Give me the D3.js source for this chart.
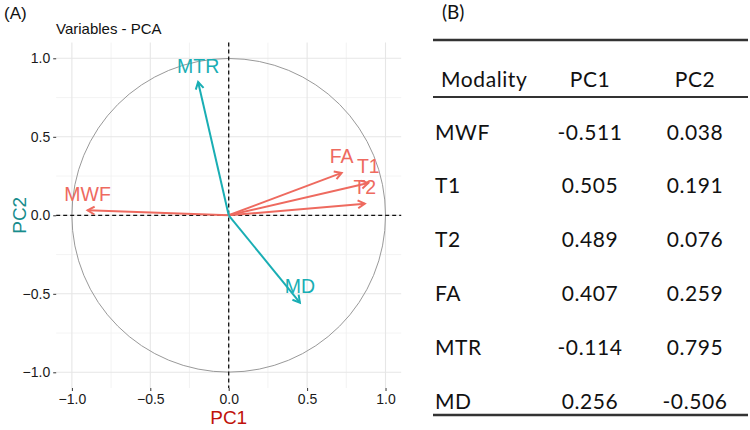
<!DOCTYPE html>
<html><head><meta charset="utf-8">
<script src="https://cdn.jsdelivr.net/npm/d3@7"></script>
<style>body{margin:0;background:#fff}svg{display:block}</style>
</head><body>
<svg id="c" width="750" height="430"></svg>
<script>
// Panel A: variable coordinates read from the correlation circle
const variables = ["MWF","T1","T2","FA","MTR","MD"];
const coordPC1 = [-0.90, 0.89, 0.868, 0.72, -0.195, 0.454];
const coordPC2 = [0.032, 0.206, 0.074, 0.27, 0.849, -0.556];
const groups   = ["a","a","a","a","b","b"];
const axisTicks = [-1.0,-0.5,0.0,0.5,1.0];
const minorTicks = [-0.75,-0.25,0.25,0.75];
// Panel B: table
const tableHeader = ["Modality","PC1","PC2"];
const tableModality = ["MWF","T1","T2","FA","MTR","MD"];
const tablePC1 = ["-0.511","0.505","0.489","0.407","-0.114","0.256"];
const tablePC2 = ["0.038","0.191","0.076","0.259","0.795","-0.506"];

const svg = d3.select("#c");
const red = "#EE6A5F", teal = "#19AEB4";
const color = d3.scaleOrdinal().domain(["a","b"]).range([red, teal]);

const x = d3.scaleLinear().domain([-1.1,1.1]).range([56.2,401.2]);
const y = d3.scaleLinear().domain([-1.1,1.1]).range([388,42.6]);
const F = "'Liberation Sans', Arial, sans-serif";

// grid
const g = svg.append("g");
minorTicks.forEach(t=>{
  g.append("line").attr("x1",x(t)).attr("x2",x(t)).attr("y1",y.range()[0]).attr("y2",y.range()[1]).attr("stroke","#f0f0f0").attr("stroke-width",0.8);
  g.append("line").attr("y1",y(t)).attr("y2",y(t)).attr("x1",x.range()[0]).attr("x2",x.range()[1]).attr("stroke","#f0f0f0").attr("stroke-width",0.8);
});
axisTicks.forEach(t=>{
  g.append("line").attr("x1",x(t)).attr("x2",x(t)).attr("y1",y.range()[0]).attr("y2",y.range()[1]).attr("stroke","#e6e6e6").attr("stroke-width",1.1);
  g.append("line").attr("y1",y(t)).attr("y2",y(t)).attr("x1",x.range()[0]).attr("x2",x.range()[1]).attr("stroke","#e6e6e6").attr("stroke-width",1.1);
});

// axes
const xAxis = d3.axisBottom(x).tickValues(axisTicks).tickFormat(d3.format(".1f")).tickSize(3).tickPadding(3);
const yAxis = d3.axisLeft(y).tickValues(axisTicks).tickFormat(d3.format(".1f")).tickSize(3).tickPadding(3);
const gx = svg.append("g").attr("transform",`translate(0,${y.range()[0]})`).call(xAxis);
const gy = svg.append("g").attr("transform",`translate(${x.range()[0]},0)`).call(yAxis);
[gx,gy].forEach(a=>{
  a.select(".domain").remove();
  a.selectAll(".tick line").attr("stroke","#333");
  a.selectAll(".tick text").attr("fill","#1a1a1a").style("font-family",F).style("font-size","14px");
});

// circle
svg.append("circle").attr("cx",x(0)).attr("cy",y(0)).attr("r",x(1)-x(0))
  .attr("fill","none").attr("stroke","#999").attr("stroke-width",1);

// dashed axes lines
svg.append("line").attr("x1",x(0)).attr("x2",x(0)).attr("y1",y.range()[1]).attr("y2",y.range()[0])
  .attr("stroke","#111").attr("stroke-width",1.3).attr("stroke-dasharray","4,3");
svg.append("line").attr("x1",x.range()[0]).attr("x2",x.range()[1]).attr("y1",y(0)).attr("y2",y(0))
  .attr("stroke","#111").attr("stroke-width",1.3).attr("stroke-dasharray","4,3");

// arrows
const data = variables.map((v,i)=>({v, px:coordPC1[i], py:coordPC2[i], grp:groups[i]}));
const ag = svg.append("g");
data.forEach(d=>{
  const x0=x(0), y0=y(0), x1=x(d.px), y1=y(d.py);
  const ang = Math.atan2(y1-y0, x1-x0);
  const L=8, a=Math.PI/6;
  const c = color(d.grp);
  ag.append("line").attr("x1",x0).attr("y1",y0).attr("x2",x1).attr("y2",y1)
    .attr("stroke",c).attr("stroke-width",2);
  ag.append("path").attr("d",
    `M${x1-L*Math.cos(ang-a)},${y1-L*Math.sin(ang-a)}L${x1},${y1}L${x1-L*Math.cos(ang+a)},${y1-L*Math.sin(ang+a)}`)
    .attr("fill","none").attr("stroke",c).attr("stroke-width",2).attr("stroke-linejoin","miter");
  ag.append("text").attr("x",x1).attr("y",y1-16.5).attr("text-anchor","middle").attr("dominant-baseline","central")
    .attr("fill",c).style("font-family",F).style("font-size","19.5px").text(d.v);
});

// titles
svg.append("text").attr("x",4).attr("y",19).style("font-family",F).style("font-size","17px").attr("fill","#111").text("(A)");
svg.append("text").attr("x",56).attr("y",34).style("font-family",F).style("font-size","15px").attr("fill","#111").text("Variables - PCA");
svg.append("text").attr("x",x(0)).attr("y",424).attr("text-anchor","middle").style("font-family",F).style("font-size","19px").attr("fill","#C0120C").text("PC1");
svg.append("text").attr("transform",`translate(19,${y(0)}) rotate(-90)`).attr("text-anchor","middle").attr("dominant-baseline","central")
  .style("font-family",F).style("font-size","19px").attr("fill","#178C8C").text("PC2");

// Panel B table
const T = "Lato, 'Open Sans', sans-serif";
const tb = svg.append("g");
tb.append("text").attr("x",442).attr("y",19).style("font-family",T).style("font-size","19px").attr("fill","#111").text("(B)");
const lx0=433, lx1=748;
tb.append("line").attr("x1",lx0).attr("x2",lx1).attr("y1",40).attr("y2",40).attr("stroke","#333").attr("stroke-width",2.5);
tb.append("line").attr("x1",lx0).attr("x2",lx1).attr("y1",97).attr("y2",97).attr("stroke","#333").attr("stroke-width",2);
tb.append("line").attr("x1",lx0).attr("x2",lx1).attr("y1",415).attr("y2",415).attr("stroke","#333").attr("stroke-width",2.5);
const colX=[441,590,695];
const ts = "21px", ls = "0.6px";
function cell(xp, yp, txt, anchor){
  tb.append("text").attr("x",xp).attr("y",yp).attr("text-anchor",anchor)
    .style("font-family",T).style("font-size",ts).style("letter-spacing",ls).attr("fill","#111").text(txt);
}
cell(colX[0],86.5,tableHeader[0],"start");
cell(colX[1],86.5,tableHeader[1],"middle");
cell(colX[2],86.5,tableHeader[2],"middle");
const rowY = d3.scaleLinear().domain([0,5]).range([139.5,408.5]);
tableModality.forEach((m,i)=>{
  cell(435,rowY(i),m,"start");
  cell(colX[1],rowY(i),tablePC1[i],"middle");
  cell(colX[2],rowY(i),tablePC2[i],"middle");
});
</script>
</body></html>
